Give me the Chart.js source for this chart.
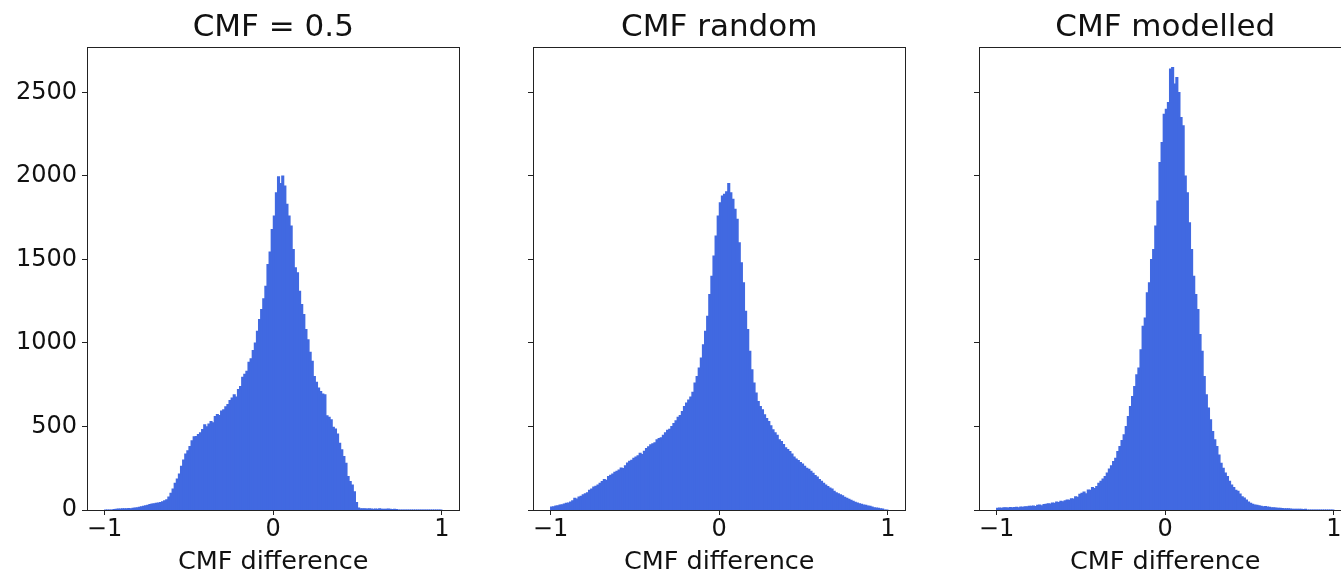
<!DOCTYPE html>
<html>
<head>
<meta charset="utf-8">
<title>CMF difference histograms</title>
<script src="https://cdn.jsdelivr.net/npm/chart.js@4.4.0/dist/chart.umd.min.js"></script>
<style>
  html, body { margin: 0; padding: 0; background: #fff; overflow: hidden; }
  body { width: 1341px; height: 575px; position: relative; }
  .panel { position: absolute; top: 0; }
</style>
</head>
<body>
<div class="panel" style="left:0px"><canvas id="c1" width="470" height="575"></canvas></div>
<div class="panel" style="left:446px"><canvas id="c2" width="470" height="575"></canvas></div>
<div class="panel" style="left:892px"><canvas id="c3" width="470" height="575"></canvas></div>
<script>
// histogram bins: 160 bins of width 0.0125 from -1 to 1
const binStart = -1;
const binWidth = 0.0125;

const titles = ['CMF = 0.5', 'CMF random', 'CMF modelled'];
const xTitle = 'CMF difference';
const xTicks = [-1, 0, 1];
const xTickLabels = ['\u22121', '0', '1'];
const yTicks = [0, 500, 1000, 1500, 2000, 2500];
const yTickLabels = ['0', '500', '1000', '1500', '2000', '2500'];

// counts per bin, 8 bins per row (one row = 0.1)
const cmfHalf = [
  0, 0, 0, 0, 3, 5, 6, 6,
  7, 7, 8, 9, 8, 10, 12, 14,
  16, 19, 22, 25, 29, 33, 36, 38,
  40, 42, 45, 50, 56, 62, 78, 100,
  125, 160, 185, 215, 262, 300, 335, 355,
  380, 415, 438, 440, 452, 462, 482, 510,
  498, 515, 530, 522, 560, 572, 566, 592,
  600, 618, 632, 655, 670, 690, 676, 722,
  740, 795, 812, 830, 885, 905, 955, 1000,
  1070, 1140, 1200, 1265, 1340, 1470, 1545, 1680,
  1760, 1900, 1995, 1955, 2000, 1940, 1830, 1760,
  1700, 1560, 1450, 1420, 1310, 1230, 1170, 1080,
  1020, 945, 890, 800, 765, 730, 710, 695,
  690, 565, 555, 540, 495, 485, 455, 400,
  360, 320, 280, 200, 170, 150, 110, 45,
  12, 8, 7, 7, 6, 7, 6, 5,
  6, 5, 8, 5, 4, 5, 6, 4,
  3, 4, 3, 0, 0, 0, 0, 0,
  0, 0, 0, 0, 0, 0, 0, 0,
  0, 0, 0, 0, 0, 0, 0, 0
];

const cmfRandom = [
  18, 20, 24, 25, 30, 32, 36, 40,
  42, 48, 55, 70, 66, 78, 82, 92,
  97, 104, 118, 125, 138, 142, 150, 160,
  170, 182, 178, 200, 208, 215, 226, 232,
  240, 252, 248, 265, 282, 292, 298, 310,
  318, 325, 340, 332, 352, 368, 378, 390,
  396, 402, 420, 428, 432, 448, 462, 478,
  484, 500, 518, 535, 556, 566, 590, 620,
  640, 658, 676, 705, 760, 800, 850, 910,
  990, 1070, 1160, 1290, 1400, 1520, 1640, 1760,
  1840, 1880, 1890, 1905, 1955, 1900, 1860, 1800,
  1740, 1600, 1480, 1360, 1190, 1080, 950, 840,
  760, 700, 650, 620, 600, 570, 548, 530,
  505, 480, 462, 448, 420, 410, 392, 372,
  362, 350, 336, 318, 305, 296, 285, 275,
  262, 250, 244, 232, 220, 206, 198, 182,
  172, 160, 150, 140, 132, 125, 112, 104,
  98, 92, 86, 76, 70, 64, 58, 52,
  46, 42, 38, 34, 30, 28, 24, 22,
  18, 14, 12, 10, 8, 6, 0, 0
];

const cmfModelled = [
  10, 12, 11, 13, 14, 12, 15, 14,
  15, 16, 14, 18, 17, 19, 20, 22,
  22, 24, 21, 28, 30, 26, 33, 35,
  38, 36, 42, 40, 48, 45, 52, 50,
  56, 60, 58, 68, 66, 80, 76, 95,
  100, 108, 98, 120, 118, 135, 128, 140,
  160, 172, 185, 200, 222, 245, 265, 290,
  310, 350, 380, 416, 450, 500, 560, 620,
  680, 740, 810, 850, 960, 1100, 1150, 1300,
  1360, 1500, 1560, 1700, 1850, 2080, 2200, 2370,
  2400, 2440, 2640, 2650, 2550, 2590, 2500, 2350,
  2300, 2000, 1900, 1720, 1560, 1400, 1290, 1200,
  1050, 950, 800, 690, 610, 540, 470, 420,
  380, 330, 280, 250, 222, 200, 172, 150,
  135, 118, 112, 96, 80, 72, 60, 48,
  40, 34, 30, 28, 25, 22, 20, 21,
  18, 16, 14, 13, 12, 11, 10, 9,
  8, 7, 7, 6, 5, 5, 4, 5,
  4, 3, 5, 0, 0, 0, 0, 0,
  0, 0, 0, 0, 0, 0, 0, 0
];

const barColor = '#4169e1';
const inkColor = '#111';

Chart.defaults.font.family = "'DejaVu Sans', sans-serif";
Chart.defaults.color = inkColor;

// one bar per bin, placed at the bin centre
function histPoints(counts) {
  return counts.map((c, i) => ({ x: binStart + (i + 0.5) * binWidth, y: c }));
}

// box around the plot area, like matplotlib spines
const frame = {
  id: 'frame',
  afterDatasetsDraw(chart) {
    const { ctx, chartArea: a } = chart;
    const l = Math.floor(a.left) + 0.5, t = Math.floor(a.top) + 0.5;
    const r = Math.floor(a.right) + 0.5, b = Math.floor(a.bottom) + 0.5;
    ctx.save();
    ctx.strokeStyle = '#222';
    ctx.lineWidth = 1;
    ctx.strokeRect(l, t, r - l, b - t);
    ctx.restore();
  }
};

function drawPanel(canvasId, title, counts, showYLabels) {
  new Chart(document.getElementById(canvasId), {
    type: 'bar',
    data: {
      datasets: [{
        data: histPoints(counts),
        backgroundColor: barColor,
        borderWidth: 0,
        barPercentage: 1,
        categoryPercentage: 1,
        inflateAmount: 0.5,
        grouped: false
      }]
    },
    options: {
      responsive: false,
      animation: false,
      events: [],
      layout: { padding: { left: 0, right: 10.5, top: 0, bottom: 0 } },
      plugins: {
        legend: { display: false },
        tooltip: { enabled: false },
        title: {
          display: true,
          text: title,
          fullSize: false,
          color: inkColor,
          font: { size: 31, weight: 'normal' },
          padding: { top: 9.5, bottom: 0.3 }
        }
      },
      scales: {
        x: {
          type: 'linear',
          min: -1.104,
          max: 1.104,
          offset: false,
          afterBuildTicks: s => { s.ticks = xTicks.map(v => ({ value: v })); },
          afterFit: s => { s.height = 65; },
          ticks: {
            autoSkip: false,
            maxRotation: 0,
            padding: 3,
            color: inkColor,
            font: { size: 24, lineHeight: 1 },
            callback: (v, i) => xTickLabels[i]
          },
          grid: { display: true, drawOnChartArea: false, drawTicks: true, tickLength: 5, color: '#222', offset: false },
          border: { display: false },
          title: {
            display: true,
            text: xTitle,
            color: inkColor,
            font: { size: 25.5, lineHeight: 1 },
            padding: { top: 0, bottom: 0 }
          }
        },
        y: {
          min: 0,
          max: 2772,
          afterBuildTicks: s => { s.ticks = yTicks.map(v => ({ value: v })); },
          afterFit: s => { s.width = 87; },
          ticks: {
            display: showYLabels,
            padding: 5,
            color: inkColor,
            font: { size: 24, lineHeight: 1 },
            callback: (v, i) => yTickLabels[i]
          },
          grid: { display: true, drawOnChartArea: false, drawTicks: true, tickLength: 5, color: '#222' },
          border: { display: false }
        }
      }
    },
    plugins: [frame]
  });
}

drawPanel('c1', titles[0], cmfHalf, true);
drawPanel('c2', titles[1], cmfRandom, false);
drawPanel('c3', titles[2], cmfModelled, false);
</script>
</body>
</html>
